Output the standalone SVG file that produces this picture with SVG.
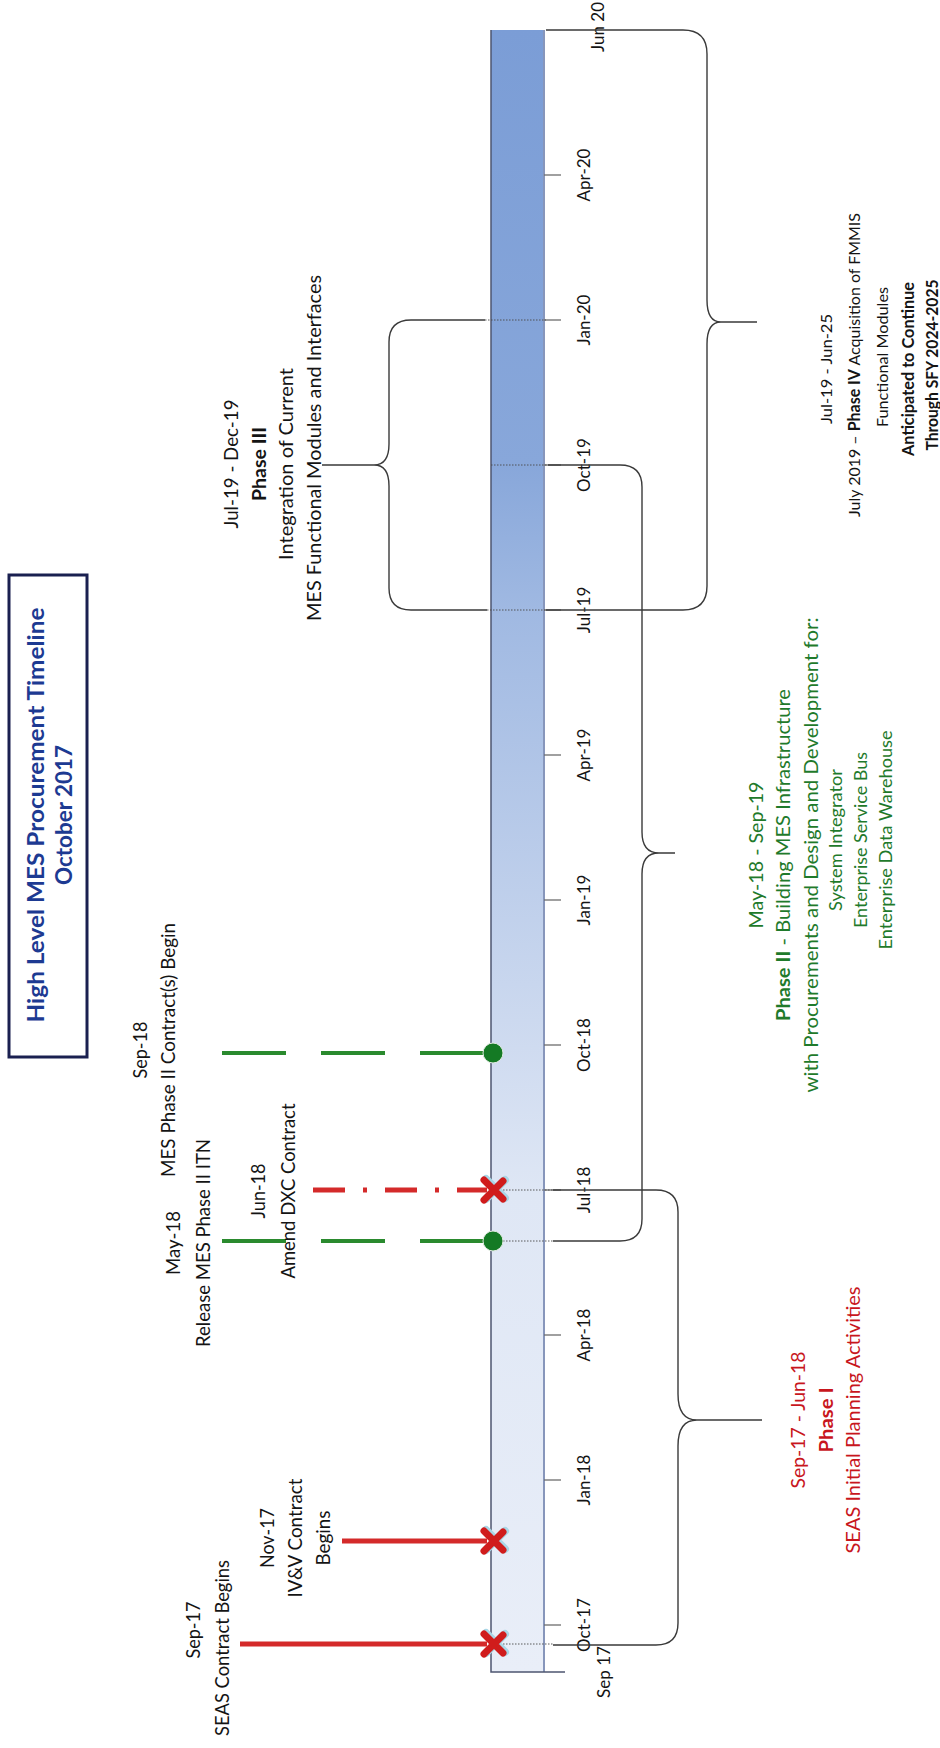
<svg xmlns="http://www.w3.org/2000/svg" width="940" height="1748" viewBox="0 0 940 1748">
<defs>
<style>
.t{font-family:Lato,"Open Sans","Liberation Sans",sans-serif;font-size:18.5px;fill:#141414;text-anchor:middle;dominant-baseline:central}
.tk{font-size:17px}
.p3{font-size:19.4px}
.p2{font-size:19.8px}
.p2s{font-size:17.5px}
.p4{font-size:16.2px}
.b{font-weight:bold}
.red{fill:#c8161d}
.grn{fill:#1f7a2b}
.ttl{font-size:23.4px;font-weight:bold;fill:#1d3a92}
.brace{fill:none;stroke:#3a3a3a;stroke-width:1.4}
.dl{stroke:#4a4a4a;stroke-width:0.9;stroke-dasharray:1.5 1.5;fill:none}
.tick{stroke:#6d6d6d;stroke-width:1.3}
.rl{stroke:#d42a2a;stroke-width:5;fill:none}
.gl{stroke:#2a8a2e;stroke-width:4;fill:none;stroke-dasharray:64 35}
</style>
<linearGradient id="barg" gradientUnits="userSpaceOnUse" x1="0" y1="1672" x2="0" y2="30">
<stop offset="0" stop-color="#e9eef8"/>
<stop offset="0.29" stop-color="#dfe7f5"/>
<stop offset="0.38" stop-color="#cfdbf0"/>
<stop offset="0.646" stop-color="#a0b9e2"/>
<stop offset="0.735" stop-color="#88a7da"/>
<stop offset="1" stop-color="#7b9dd6"/>
</linearGradient>
<g id="xmark">
<path d="M-9,-10 L10,9 M-9,10 L10,-9" stroke="#a9d6e6" stroke-width="8" stroke-linecap="round" transform="translate(2,-1)"/>
<path d="M-9,-10 L10,9 M-9,10 L10,-9" stroke="#d01c1c" stroke-width="7" stroke-linecap="round"/>
</g>
</defs>
<rect width="940" height="1748" fill="#ffffff"/>

<g id="title">
<rect x="9" y="575" width="78" height="482" fill="none" stroke="#1a2050" stroke-width="3"/>
<g transform="translate(0,815) rotate(-90)">
<text class="t ttl" x="0" y="35" textLength="415" lengthAdjust="spacingAndGlyphs">High Level MES Procurement Timeline</text>
<text class="t ttl" x="0" y="63" textLength="140" lengthAdjust="spacingAndGlyphs">October 2017</text>
</g>
</g>

<g id="timeline-bar">
<rect x="491" y="30" width="53" height="1642" fill="url(#barg)"/>
<line x1="544" y1="30" x2="544" y2="1672" stroke="#8796bb" stroke-width="2"/>
<path d="M491,30 V1672 H565" fill="none" stroke="#4d5570" stroke-width="1.5"/>
<g class="tick">
<line x1="544" y1="1625" x2="561" y2="1625"/>
<line x1="544" y1="1480" x2="561" y2="1480"/>
<line x1="544" y1="1335" x2="561" y2="1335"/>
<line x1="544" y1="1190" x2="561" y2="1190"/>
<line x1="544" y1="1045" x2="561" y2="1045"/>
<line x1="544" y1="900" x2="561" y2="900"/>
<line x1="544" y1="755" x2="561" y2="755"/>
<line x1="544" y1="610" x2="561" y2="610"/>
<line x1="544" y1="465" x2="561" y2="465"/>
<line x1="544" y1="320" x2="561" y2="320"/>
<line x1="544" y1="175" x2="561" y2="175"/>
</g>
</g>

<g id="axis-labels">
<text class="t tk" transform="translate(603,1672) rotate(-90)">Sep 17</text>
<text class="t tk" transform="translate(583,1625) rotate(-90)">Oct-17</text>
<text class="t tk" transform="translate(583,1480) rotate(-90)">Jan-18</text>
<text class="t tk" transform="translate(583,1335) rotate(-90)">Apr-18</text>
<text class="t tk" transform="translate(583,1190) rotate(-90)">Jul-18</text>
<text class="t tk" transform="translate(583,1045) rotate(-90)">Oct-18</text>
<text class="t tk" transform="translate(583,900) rotate(-90)">Jan-19</text>
<text class="t tk" transform="translate(583,755) rotate(-90)">Apr-19</text>
<text class="t tk" transform="translate(583,610) rotate(-90)">Jul-19</text>
<text class="t tk" transform="translate(583,465) rotate(-90)">Oct-19</text>
<text class="t tk" transform="translate(583,320) rotate(-90)">Jan-20</text>
<text class="t tk" transform="translate(583,175) rotate(-90)">Apr-20</text>
<text class="t tk" transform="translate(597,27) rotate(-90)">Jun 20</text>
</g>

<g id="connectors">
<line class="dl" x1="485" y1="320" x2="546" y2="320"/>
<line class="dl" x1="491" y1="465" x2="548" y2="465"/>
<line class="dl" x1="487" y1="610" x2="546" y2="610"/>
<line class="dl" x1="500" y1="1190" x2="553" y2="1190"/>
<line class="dl" x1="503" y1="1241" x2="553" y2="1241"/>
<line class="dl" x1="503" y1="1644" x2="553" y2="1644"/>
<path class="rl" d="M240,1644 H487"/>
<path class="rl" d="M342,1541 H487"/>
<path class="rl" d="M313,1190 H487" stroke-dasharray="32 18 4 18"/>
<path class="gl" d="M222,1241 H486"/>
<path class="gl" d="M222,1053 H486"/>
<path class="brace" d="M553,1190 H656 Q678,1190 678,1212 V1394 Q678,1420 697,1420 Q678,1420 678,1446 V1623 Q678,1645 656,1645 H553 M697,1420 H762"/>
<path class="brace" d="M548,465 H620 Q642,465 642,487 V832 Q642,853 659,853 Q642,853 642,874 V1219 Q642,1241 620,1241 H553 M659,853 H675"/>
<path class="brace" d="M485,320 H411 Q389,320 389,342 V444 Q389,465 374,465 Q389,465 389,486 V588 Q389,610 411,610 H487 M374,465 H322"/>
<path class="brace" d="M546,30 H683 Q707,30 707,54 V300 Q707,322 721,322 Q707,322 707,344 V586 Q707,610 683,610 H546 M721,322 H757"/>
</g>

<g id="milestone-seas">
<use href="#xmark" x="493" y="1644"/>
<text class="t" transform="translate(193,1630) rotate(-90)" textLength="57" lengthAdjust="spacingAndGlyphs">Sep-17</text>
<text class="t" transform="translate(222,1648) rotate(-90)" textLength="176" lengthAdjust="spacingAndGlyphs">SEAS Contract Begins</text>
</g>

<g id="milestone-ivv">
<use href="#xmark" x="493" y="1541"/>
<g transform="translate(0,1538) rotate(-90)">
<text class="t" x="0" y="267" textLength="60" lengthAdjust="spacingAndGlyphs">Nov-17</text>
<text class="t" x="0" y="295" textLength="119" lengthAdjust="spacingAndGlyphs">IV&amp;V Contract</text>
<text class="t" x="0" y="323" textLength="55" lengthAdjust="spacingAndGlyphs">Begins</text>
</g>
</g>

<g id="milestone-dxc">
<use href="#xmark" x="493" y="1190"/>
<g transform="translate(0,1191) rotate(-90)">
<text class="t" x="0" y="258" textLength="55" lengthAdjust="spacingAndGlyphs">Jun-18</text>
<text class="t" x="0" y="288" textLength="175" lengthAdjust="spacingAndGlyphs">Amend DXC Contract</text>
</g>
</g>

<g id="milestone-itn">
<circle cx="493" cy="1241" r="10" fill="#147a24" stroke="#dfe9df" stroke-width="1"/>
<g transform="translate(0,1243) rotate(-90)">
<text class="t" x="0" y="173" textLength="64" lengthAdjust="spacingAndGlyphs">May-18</text>
<text class="t" x="0" y="203" textLength="208" lengthAdjust="spacingAndGlyphs">Release MES Phase II ITN</text>
</g>
</g>

<g id="milestone-contracts">
<circle cx="493" cy="1053" r="10" fill="#147a24" stroke="#dfe9df" stroke-width="1"/>
<g transform="translate(0,1050) rotate(-90)">
<text class="t" x="0" y="140" textLength="57" lengthAdjust="spacingAndGlyphs">Sep-18</text>
<text class="t" x="0" y="168" textLength="254" lengthAdjust="spacingAndGlyphs">MES Phase II Contract(s) Begin</text>
</g>
</g>

<g id="phase1">
<g transform="translate(0,1420) rotate(-90)">
<text class="t p2 red" x="0" y="797" textLength="137" lengthAdjust="spacingAndGlyphs">Sep-17 - Jun-18</text>
<text class="t p2 red b" x="0" y="825" textLength="65" lengthAdjust="spacingAndGlyphs">Phase I</text>
<text class="t p2 red" x="0" y="852" textLength="267" lengthAdjust="spacingAndGlyphs">SEAS Initial Planning Activities</text>
</g>
</g>

<g id="phase2">
<g transform="translate(0,855) rotate(-90)">
<text class="t p2 grn" x="0" y="755" textLength="147" lengthAdjust="spacingAndGlyphs">May-18 - Sep-19</text>
<text class="t p2 grn" x="0" y="782" textLength="332" lengthAdjust="spacingAndGlyphs"><tspan font-weight="bold">Phase II</tspan> - Building MES Infrastructure</text>
<text class="t p2 grn" x="0" y="810" textLength="475" lengthAdjust="spacingAndGlyphs">with Procurements and Design and Development for:</text>
<text class="t p2s grn" x="15" y="835" textLength="142" lengthAdjust="spacingAndGlyphs">System Integrator</text>
<text class="t p2s grn" x="15" y="860" textLength="176" lengthAdjust="spacingAndGlyphs">Enterprise Service Bus</text>
<text class="t p2s grn" x="15" y="885" textLength="219" lengthAdjust="spacingAndGlyphs">Enterprise Data Warehouse</text>
</g>
</g>

<g id="phase3">
<g transform="translate(0,464) rotate(-90)">
<text class="t p3" x="0" y="230" textLength="129" lengthAdjust="spacingAndGlyphs">Jul-19 - Dec-19</text>
<text class="t p3 b" x="0" y="258" textLength="74" lengthAdjust="spacingAndGlyphs">Phase III</text>
<text class="t p3" x="0" y="285" textLength="192" lengthAdjust="spacingAndGlyphs">Integration of Current</text>
<text class="t p3" x="16" y="313" textLength="346" lengthAdjust="spacingAndGlyphs">MES Functional Modules and Interfaces</text>
</g>
</g>

<g id="phase4">
<g transform="translate(0,365) rotate(-90)">
<text class="t p4" x="-4" y="825" textLength="110" lengthAdjust="spacingAndGlyphs">Jul-19 - Jun-25</text>
<text class="t p4" x="0" y="853" textLength="304" lengthAdjust="spacingAndGlyphs">July 2019 – <tspan font-weight="bold">Phase IV</tspan> Acquisition of FMMIS</text>
<text class="t p4" x="8" y="881" textLength="140" lengthAdjust="spacingAndGlyphs">Functional Modules</text>
<text class="t p4 b" x="-4" y="907" textLength="174" lengthAdjust="spacingAndGlyphs">Anticipated to Continue</text>
<text class="t p4 b" x="0" y="931" textLength="171" lengthAdjust="spacingAndGlyphs">Through SFY 2024-2025</text>
</g>
</g>
</svg>
